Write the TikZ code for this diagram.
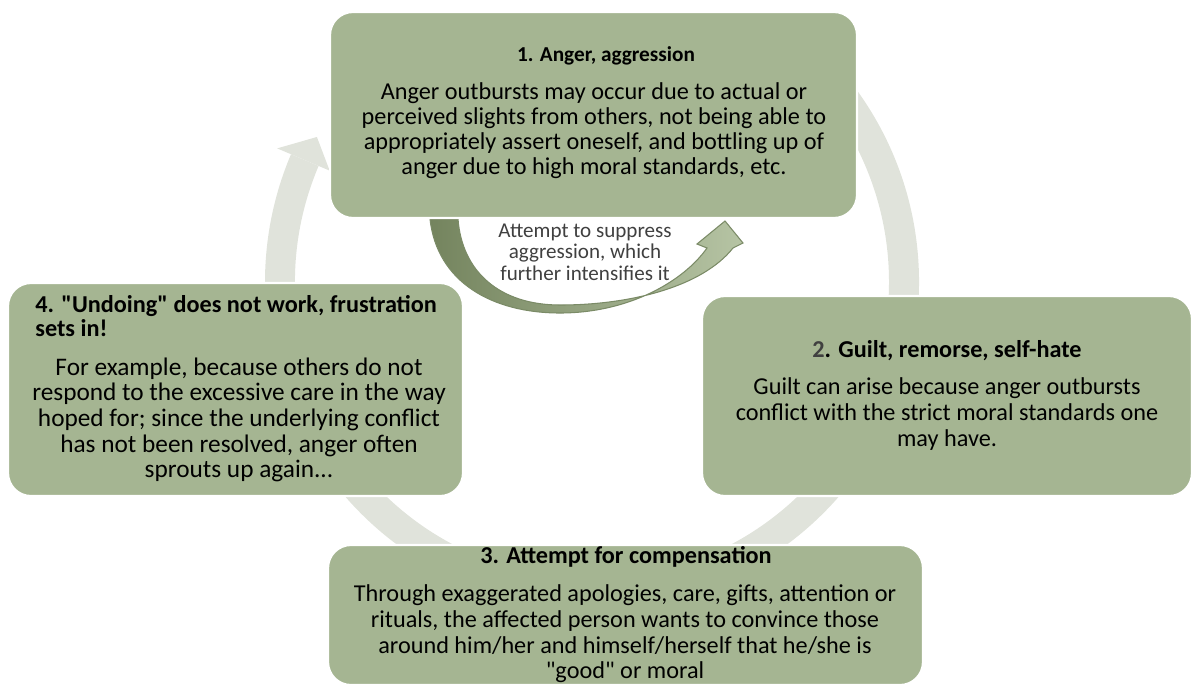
\documentclass[tikz,border=0pt]{standalone}
\usepackage{fontspec}
\setmainfont{Carlito}[Ligatures=TeXOff]
\definecolor{boxgreen}{HTML}{A5B592}
\definecolor{ringgrey}{HTML}{E0E3DB}
\definecolor{arrowdark}{HTML}{74845E}
\definecolor{arrowlight}{HTML}{B6C4A4}
\definecolor{arrowedge}{HTML}{7B8B67}
\definecolor{softtext}{HTML}{404040}
\begin{document}
\begin{tikzpicture}[x=0.02cm,y=-0.02cm,
  stagebox/.style={draw=white, line width=1.2pt, fill=boxgreen,
    rounded corners=0.46cm, inner sep=0pt},
  bodytext/.style={font=\fontsize{13.8}{14.6}\selectfont, align=center, inner sep=0pt},
  titletext/.style={font=\fontsize{13.8}{13.6}\selectfont\bfseries, inner sep=0pt},
  notetext/.style={font=\fontsize{12}{12.2}\selectfont, text=softtext, align=center, inner sep=0pt},
]
\useasboundingbox (0,0) rectangle (1192,684);
\clip (0,0) rectangle (1192,684);

% continuous ring running clockwise, ending in an arrow tip before stage 1
\begin{scope}[shift={(592,282)}]
  \fill[ringgrey] (323:327) arc[start angle=323, end angle=563, radius=327]
    -- (563:297) arc[start angle=563, end angle=323, radius=297] -- cycle;
  \fill[ringgrey] (563:342) -- (207.8:311) -- (563:285) -- cycle;
\end{scope}

% curved arrow under stage 1
\shadedraw[left color=arrowdark, right color=arrowlight, draw=arrowedge, line width=0.6pt]
  (430,205) -- (430,219) .. controls (437,282) and (492,313) .. (560,313)
  .. controls (628,313) and (683,282) .. (707,248)
  -- (697,244) -- (725,221) -- (743,243) -- (733,248)
  .. controls (702,287) and (630,305) .. (560,305)
  .. controls (500,305) and (462,272) .. (458,219) -- (458,205) -- cycle;

% stage boxes
\node[stagebox, minimum width=10.54cm, minimum height=4.12cm] (s1) at (593.5,115) {};
\node[stagebox, minimum width=9.8cm, minimum height=4cm] (s2) at (947,396) {};
\node[stagebox, minimum width=11.9cm, minimum height=2.8cm] (s3) at (625.5,615) {};
\node[stagebox, minimum width=9.1cm, minimum height=4.26cm] (s4) at (235.5,389.5) {};

% stage 1
\node[titletext, font=\fontsize{12.1}{13.6}\selectfont\bfseries] (t1) at (606,56) {1. Anger, aggression};
\node[bodytext, font=\fontsize{13.8}{14.2}\selectfont] (b1) at (594,131) {Anger outbursts may occur due to actual or\\
  perceived slights from others, not being able to\\
  appropriately assert oneself, and bottling up of\\
  anger due to high moral standards, etc.};

% stage 2
\node[titletext] (t2) at (947,351) {\textcolor{softtext}{2}. Guilt, remorse, self-hate};
\node[bodytext, font=\fontsize{13.8}{14.7}\selectfont] (b2) at (947,414) {Guilt can arise because anger outbursts\\
  conflict with the strict moral standards one\\
  may have.};

% stage 3
\node[titletext] (t3) at (626,557) {3. Attempt for compensation};
\node[bodytext] (b3) at (625,634) {Through exaggerated apologies, care, gifts, attention or\\
  rituals, the affected person wants to convince those\\
  around him/her and himself/herself that he/she is\\
  "good" or moral};

% stage 4
\node[titletext, align=left, anchor=west] (t4) at (35,316) {4. "Undoing" does not work, frustration\\
  sets in!};
\node[bodytext, font=\fontsize{14.4}{14.6}\selectfont] (b4) at (239,420) {For example, because others do not\\
  respond to the excessive care in the way\\
  hoped for; since the underlying conflict\\
  has not been resolved, anger often\\
  sprouts up again...};

% note on the curved arrow
\node[notetext] (note) at (585,252) {Attempt to suppress\\
  aggression, which\\
  further intensifies it};
\end{tikzpicture}
\end{document}
